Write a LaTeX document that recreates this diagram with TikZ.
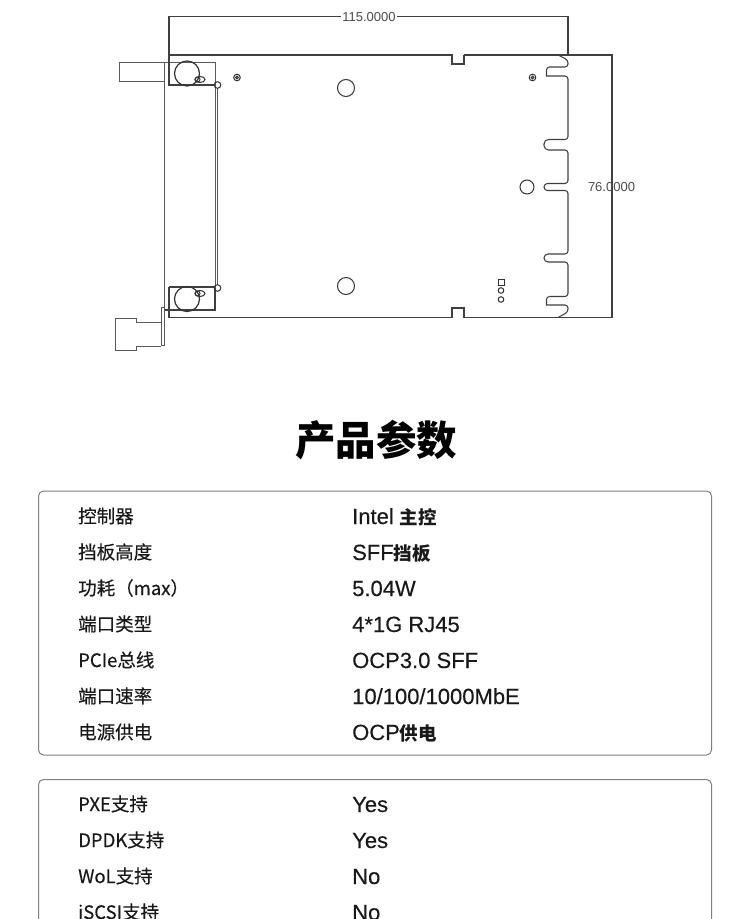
\documentclass[tikz,border=0pt]{standalone}
\usepackage{fontspec}
\setmainfont[FakeBold=0.25]{Liberation Sans}
\newfontfamily\cjk[FakeBold=0.3]{Noto Sans CJK SC}
\newfontfamily\cjktitle{Noto Sans CJK SC}
\newfontfamily\dimfont{Liberation Sans}
\tikzset{
  outline/.style={draw=black!75, line width=1.05},
  thinline/.style={draw=black!65, line width=1},
  hole/.style={draw=black!80, line width=1},
  dimlabel/.style={font=\dimfont\fontsize{13}{14}\selectfont, text=black!70, inner sep=1},
  heading/.style={font=\cjktitle\bfseries\fontsize{40.5}{44}\selectfont, inner sep=0},
  lefttext/.style={anchor=base west, inner sep=0, text=black!90, font=\cjk\fontsize{18.5}{22}\selectfont},
  righttext/.style={anchor=base west, inner sep=0, text=black!90, font=\fontsize{22}{24}\selectfont},
  panel/.style={draw=black!50, line width=1, rounded corners=5}
}
\newcommand{\boldcjk}[1]{{\cjktitle\bfseries\fontsize{18.5}{22}\selectfont #1}}
\begin{document}
\begin{tikzpicture}[x=1pt, y=-1pt]
        \useasboundingbox (0,0) rectangle (750,919);
        \clip (0,0) rectangle (750,919);

        % dimension lines
        \draw [outline] (169,55) -- (169,16.5) -- (568,16.5) -- (568,55);
        \draw [outline] (464,55) -- (612,55) -- (612,317.5) -- (558,317.5);
        \node [dimlabel, fill=white] (widthlabel) at (369,17) {115.0000};
        \node [dimlabel] (heightlabel) at (611.5,187) {76.0000};

        % board
        \draw [outline] (169,55) -- (452,55) -- (452,64) -- (464,64) -- (464,55);
        \draw [outline] (169,287) -- (169,317.5) -- (452,317.5) -- (452,308) -- (464,308)
          -- (464,317.5) -- (558,317.5);

        % right edge with notches
        \draw [outline, rounded corners=3] (558,55) -- (568,60) -- (568,67) -- (546.5,67)
          [sharp corners] -- (546.5,76) [rounded corners=3] -- (568,76) -- (568,139.5)
          [rounded corners=4.5] -- (544,139.5) -- (544,150) [rounded corners=3] -- (568,150)
          -- (568,183.5) [rounded corners=3.5] -- (544,183.5) -- (544,190.5)
          [rounded corners=3] -- (568,190.5) -- (568,254)
          [rounded corners=4] -- (544,254) -- (544,262) [rounded corners=3] -- (568,262)
          -- (568,296.5) -- (546.5,296.5) [sharp corners] -- (546.5,305)
          [rounded corners=3] -- (568,305) -- (568,312) -- (558,317.5);

        % bracket and connectors
        \draw [thinline] (164.5,62) -- (164.5,310);
        \draw [thinline] (119,62) rectangle (164.5,81);
        \draw [thinline] (164.5,62) -- (215,62) -- (215,85);
        \draw [outline] (169,55) -- (169,85) -- (215,85);
        \draw [outline] (169,287) -- (215,287) -- (215,310) -- (164.5,310);
        \draw [thinline] (215.2,85) -- (215.2,288);
        \draw [thinline] (217.2,88) -- (217.2,285);
        \draw [thinline] (161,345) -- (161,307) -- (164.5,307);
        \draw [thinline] (164.5,310) -- (164.5,345) -- (161,345);
        \draw [thinline] (161,322) -- (136,322) -- (136,318) -- (115,318) -- (115,350)
          -- (136,350) -- (136,346) -- (161,346);

        % holes
        \draw [hole, line width=1.2] (187,73.5) circle (12.5);
        \draw [hole, line width=1.2] (187,299) circle (12.5);
        \draw [hole] (200,79.5) ellipse (5 and 3);
        \draw [hole] (200,293.5) ellipse (5 and 3);
        \draw [hole] (197.5,79.5) circle (2.5);
        \draw [hole] (197.5,293.5) circle (2.5);
        \draw [hole] (217.5,85) circle (3.3);
        \draw [hole] (217.5,288) circle (3.3);
        \draw [hole] (346,88) circle (8.5);
        \draw [hole] (346,286) circle (8.5);
        \draw [hole] (527,187) circle (7);
        \draw [hole] (237,77.5) circle (3.3);
        \draw [hole] (237,77.5) circle (1.3);
        \draw [hole] (532.5,77.5) circle (3.3);
        \draw [hole] (532.5,77.5) circle (1.3);
        \draw [hole] (498,279) rectangle (504,285);
        \draw [hole] (501,290.5) circle (2.8);
        \draw [hole] (501,299.5) circle (2.8);

        \node [heading] (title) at (376,440) {产品参数};

        % first panel
        \draw [panel] (38.5,491) rectangle (711.5,755);
        \node [lefttext] (ctrlname) at (78,523) {控制器};
        \node [righttext] (ctrlval) at (352,524) {Intel \boldcjk{主控}};
        \node [lefttext] (bracketname) at (78,559) {挡板高度};
        \node [righttext] (bracketval) at (352,560) {SFF\boldcjk{挡板}};
        \node [lefttext] (powername) at (78,595) {功耗（max）};
        \node [righttext] (powerval) at (352,596) {5.04W};
        \node [lefttext] (portname) at (78,631) {端口类型};
        \node [righttext] (portval) at (352,632) {4*1G RJ45};
        \node [lefttext] (busname) at (78,667) {PCIe总线};
        \node [righttext] (busval) at (352,668) {OCP3.0 SFF};
        \node [lefttext] (speedname) at (78,703) {端口速率};
        \node [righttext] (speedval) at (352,704) {10/100/1000MbE};
        \node [lefttext] (supplyname) at (78,739) {电源供电};
        \node [righttext] (supplyval) at (352,740) {OCP\boldcjk{供电}};

        % second panel
        \draw [panel] (38.5,779.5) rectangle (711.5,960);
        \node [lefttext] (pxename) at (78,811) {PXE支持};
        \node [righttext] (pxeval) at (352,812) {Yes};
        \node [lefttext] (dpdkname) at (78,847) {DPDK支持};
        \node [righttext] (dpdkval) at (352,848) {Yes};
        \node [lefttext] (wolname) at (78,883) {WoL支持};
        \node [righttext] (wolval) at (352,884) {No};
        \node [lefttext] (iscsiname) at (78,919) {iSCSI支持};
        \node [righttext] (iscsival) at (352,920) {No};
\end{tikzpicture}
\end{document}
